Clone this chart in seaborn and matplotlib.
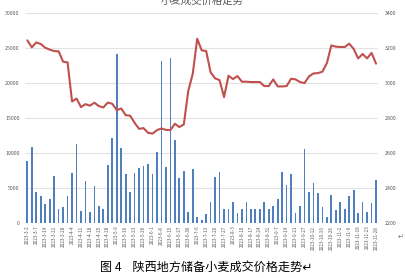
import matplotlib
matplotlib.use("Agg")
import matplotlib.pyplot as plt
import seaborn as sns
import pandas as pd

dates = [
    "2023-3-2", "2023-3-3", "2023-3-7", "2023-3-9", "2023-3-14", "2023-3-16", "2023-3-21", "2023-3-23",
    "2023-3-28", "2023-3-30", "2023-4-4", "2023-4-6", "2023-4-11", "2023-4-13", "2023-4-18", "2023-4-20",
    "2023-4-25", "2023-4-27", "2023-4-28", "2023-5-4", "2023-5-9", "2023-5-11", "2023-5-16", "2023-5-18",
    "2023-5-23", "2023-5-25", "2023-5-26", "2023-5-30", "2023-6-1", "2023-6-6", "2023-6-8", "2023-6-13",
    "2023-6-15", "2023-6-20", "2023-6-27", "2023-6-29", "2023-6-30", "2023-7-4", "2023-7-6", "2023-7-11",
    "2023-7-13", "2023-7-18", "2023-7-20", "2023-7-25", "2023-7-27", "2023-8-1", "2023-8-3", "2023-8-8",
    "2023-8-10", "2023-8-15", "2023-8-17", "2023-8-22", "2023-8-24", "2023-8-29", "2023-8-31", "2023-9-5",
    "2023-9-7", "2023-9-12", "2023-9-14", "2023-9-19", "2023-9-21", "2023-9-26", "2023-9-27", "2023-10-10",
    "2023-10-12", "2023-10-17", "2023-10-19", "2023-10-24", "2023-10-26", "2023-10-31", "2023-11-2", "2023-11-7",
    "2023-11-9", "2023-11-14", "2023-11-16", "2023-11-21", "2023-11-23", "2023-11-24", "2023-11-28",
]

volume = [
    8900, 10900, 4380, 3900, 2710, 3380, 6700, 1950, 2290, 3900,
    7140, 11240, 1670, 6000, 1520, 5290, 2430, 1950, 8330, 12140,
    24050, 10700, 7050, 4430, 7100, 7900, 8190, 8470, 6950, 10140,
    23140, 8000, 23530, 11810, 6380, 7430, 1570, 7670, 860, 430,
    1330, 2950, 6570, 7240, 1950, 1950, 2950, 1430, 1950, 2990,
    1950, 1950, 2050, 2950, 1950, 2380, 3430, 7290, 5430, 6950,
    1430, 2430, 10480, 4430, 5710, 4290, 2290, 900, 4000, 1860,
    3000, 2000, 3860, 4760, 1470, 2990, 1520, 2900, 6100,
]

price = [
    3242, 3202, 3230, 3221, 3200, 3189, 3181, 3179, 3120, 3116,
    2893, 2910, 2861, 2878, 2869, 2886, 2867, 2859, 2887, 2880,
    2844, 2853, 2815, 2812, 2771, 2737, 2741, 2714, 2710, 2730,
    2739, 2731, 2730, 2766, 2747, 2762, 2954, 3051, 3251, 3185,
    3181, 3059, 3025, 3015, 2918, 3040, 3021, 3038, 3006, 3006,
    3004, 3004, 3004, 2981, 2981, 3019, 2979, 2979, 2981, 3023,
    3019, 3004, 2998, 3036, 3053, 3055, 3063, 3112, 3213, 3206,
    3204, 3204, 3223, 3193, 3139, 3164, 3139, 3170, 3109,
]

left_ticks = [0, 5000, 10000, 15000, 20000, 25000, 30000]
right_ticks = [2200, 2400, 2600, 2800, 3000, 3200, 3400]

title = "小麦成交价格走势"
caption = "图 4    陕西地方储备小麦成交价格走势↵"

df = pd.DataFrame({"date": dates, "volume": volume, "price": price})

sns.set_theme(style="white")
plt.rcParams["font.family"] = ["Noto Sans CJK SC", "DejaVu Sans"]

fig = plt.figure(figsize=(4.05, 2.78), dpi=100)
ax = fig.add_axes([0.062, 0.198, 0.872, 0.7565])

sns.barplot(data=df, x="date", y="volume", color="#4f7fbd", saturation=1,
            width=0.38, ax=ax, order=dates, linewidth=0, edgecolor="none")
ax2 = ax.twinx()
sns.lineplot(data=df, x="date", y="price", color="#c0504d", linewidth=1.5,
             sort=False, ax=ax2)

ax.set_xlim(-0.5, len(dates) - 0.5)
ax.set_ylim(left_ticks[0], left_ticks[-1])
ax2.set_ylim(right_ticks[0], right_ticks[-1])
ax.set_yticks(left_ticks)
ax.set_yticklabels([str(t) for t in left_ticks])
ax2.set_yticks(right_ticks)
ax2.set_yticklabels([str(t) for t in right_ticks])

ax.set_xticks(range(0, len(dates), 2))
ax.set_xticklabels(dates[::2], rotation=90, fontsize=3.3, color="#595959")
ax.tick_params(axis="x", length=0, pad=2)
ax.tick_params(axis="y", length=0, pad=4, labelsize=3.8, labelcolor="#595959")
ax2.tick_params(axis="y", length=0, pad=5, labelsize=3.8, labelcolor="#595959")

ax.yaxis.grid(True, color="#e3e3e3", linewidth=0.8)
ax.set_axisbelow(True)
for a in (ax, ax2):
    for s in a.spines.values():
        s.set_visible(False)
    a.set_xlabel("")
    a.set_ylabel("")

fig.text(0.5, 0.997, title, ha="center", va="center", fontsize=7.5, color="#595959")
fig.text(0.51, 0.04, caption, ha="center", va="center", fontsize=8.7, color="black")
fig.text(0.99, 0.15, "↵", ha="center", va="center", fontsize=5, color="#777777",
         family=["DejaVu Sans"])

fig.savefig("out.png", dpi=100)
